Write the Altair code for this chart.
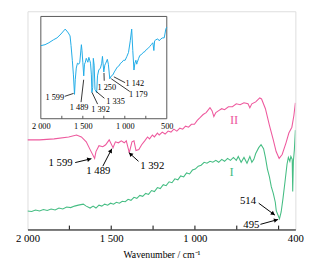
import math
import altair as alt
import pandas as pd

# ---------------- data (wavenumber / cm-1, transmittance a.u.) ----------------
wn_II = [2000, 1928, 1841, 1754, 1707, 1678, 1649, 1626, 1599, 1591, 1573, 1550, 1533, 1512,
         1489, 1475, 1457, 1440, 1422, 1410, 1392, 1376, 1364, 1352, 1335, 1318, 1300, 1283,
         1271, 1254, 1242, 1224, 1213, 1195, 1178, 1160, 1143, 1126, 1108, 1090, 1073, 1056,
         1038, 1021, 1003, 986, 968, 951, 933, 910, 898, 887, 875, 858, 840, 823, 800, 776,
         753, 730, 707, 683, 672, 660, 637, 613, 602, 579, 555, 532, 515, 497, 479, 456, 439,
         421, 409, 400]
t_II = [92, 92, 93, 95, 97, 95, 90, 82, 73, 80, 86, 85, 87, 92,
        84, 90, 89, 91, 89, 91, 79, 90, 91, 81, 82, 87, 91, 95,
        93, 97, 95, 99, 97, 100, 98, 101, 100, 103, 101, 104, 103, 106,
        105, 108, 108, 112, 115, 118, 120, 125, 122, 116, 120, 122, 124, 123, 126, 126,
        129, 128, 130, 129, 125, 129, 131, 135, 134, 124, 107, 92, 80, 73, 77, 89, 99,
        105, 117, 130]

wn_I = [2000, 1975, 1952, 1928, 1905, 1882, 1859, 1835, 1812, 1789, 1766, 1742, 1719, 1696,
        1667, 1649, 1626, 1608, 1591, 1573, 1556, 1539, 1521, 1504, 1486, 1469, 1451, 1434,
        1416, 1399, 1382, 1364, 1347, 1329, 1312, 1294, 1277, 1259, 1242, 1224, 1207, 1189,
        1172, 1154, 1137, 1120, 1102, 1085, 1067, 1050, 1032, 1015, 998, 980, 963, 945, 928,
        910, 893, 875, 858, 840, 823, 805, 788, 770, 753, 741, 724, 707, 689, 672, 660, 648,
        637, 619, 605, 590, 579, 567, 555, 544, 532, 520, 514, 495, 485, 474, 462, 450, 442,
        433, 427, 419, 416, 412, 406, 400]
t_I = [19, 18.5, 20, 19, 20.5, 19.5, 21, 20, 22, 21, 23, 22.5, 24, 25,
       26, 24, 22, 24, 22, 25, 24, 26, 25, 27, 26, 28, 27, 29,
       28.5, 31, 30, 33, 32, 35, 34, 37, 36, 40, 39, 43, 42, 46,
       45, 49, 48, 52, 51, 55, 54, 58, 57, 61, 62, 65, 66, 69, 68,
       70, 69, 71, 69, 72, 70, 73, 71, 74, 71, 75, 69, 74, 68, 75, 69, 72,
       78, 84, 87, 83, 74, 62, 54, 44, 37, 28, 19, 11, 18, 32, 49, 67, 74,
       70, 75, 72, 39, 70, 82, 102]

wn_inset = [2000, 1950, 1904, 1850, 1807, 1760, 1710, 1690, 1672, 1652, 1640, 1625, 1612, 1599,
            1590, 1578, 1564, 1548, 1536, 1517, 1510, 1500, 1489, 1480, 1470, 1459, 1449, 1440,
            1428, 1418, 1408, 1398, 1392, 1382, 1375, 1365, 1355, 1335, 1325, 1310, 1290, 1275,
            1266, 1250, 1238, 1227, 1208, 1196, 1179, 1160, 1142, 1125, 1111, 1090, 1072, 1050,
            1034, 1015, 996, 975, 956, 935, 918, 905, 891, 880, 868, 858, 851, 835, 821, 800,
            782, 760, 744, 725, 705, 685, 666, 654, 645, 630, 608, 590, 570, 550, 531, 520,
            512, 500]
t_inset = [75, 76, 78, 81, 83, 87, 92, 90, 88, 85, 75, 60, 45, 25,
           40, 52, 57, 56, 58, 76, 70, 58, 44, 56, 58, 62, 60, 58,
           63, 60, 57, 45, 27, 32, 62, 55, 30, 27, 44, 50, 52, 57,
           64, 48, 55, 57, 61, 56, 41, 44, 45, 48, 50, 53, 54, 57,
           58, 60, 60, 64, 68, 80, 92, 70, 50, 57, 60, 56, 58, 62, 65, 66,
           68, 69, 71, 72, 74, 76, 78, 70, 80, 81, 82, 80, 82, 83, 83, 88,
           92, 94]

main_labels = [2000, 1500, 1000, 400]
main_minor = [1750, 1500, 1250, 1000, 750, 500]
inset_labels = [2000, 1500, 1000, 500]
inset_minor = [1750, 1500, 1250, 1000, 750]

ann_text = ["1 599", "1 489", "1 392", "514", "495"]
ann_x = [1802, 1577, 1255, 683, 663]
ann_y = [68, 60, 65, 29, 5]
arr_x1 = [1715, 1550, 1337, 619, 609]
arr_y1 = [68.7, 65, 70, 27, 5.3]
arr_x2 = [1618, 1496, 1395, 522, 503]
arr_y2 = [72.7, 83, 79, 14.7, 10.3]

series_text = ["II", "I"]
series_x = [766, 781]
series_y = [112.7, 58.7]

ins_text = ["1 599", "1 489", "1 392", "1 335", "1 250", "1 179", "1 142"]
ins_x = [1834, 1544, 1289, 1111, 1215, 840, 881]
ins_y = [22, 12, 10, 18, 33, 25.6, 36.6]
lead_x1 = [1715, 1521, 1390, 1341, 1248, 1161, 1130]
lead_y1 = [23, 17, 27, 28, 47, 41, 43]
lead_x2 = [1610, 1490, 1324, 1243, 1245, 941, 996]
lead_y2 = [26, 40, 15, 21, 39, 28, 37]

PINK = "#EE5A9E"
GREEN = "#45BD83"
BLUE = "#1EABE6"
FONT = "Liberation Serif"

# ---------------- layout ----------------
W, H = 275, 224
X_DOM = [2000, 400]
Y_DOM = [0, 224]
px_per_wn = W / (X_DOM[0] - X_DOM[1])
px_per_t = H / (Y_DOM[1] - Y_DOM[0])

xs = alt.Scale(domain=X_DOM, nice=False, zero=False)
ys = alt.Scale(domain=Y_DOM, nice=False, zero=False)

curves = pd.concat([
    pd.DataFrame({"wn": wn_II, "t": t_II, "s": "II"}),
    pd.DataFrame({"wn": wn_I, "t": t_I, "s": "I"}),
])

lines = alt.Chart(curves).mark_line(strokeWidth=1.1, clip=True).encode(
    x=alt.X("wn:Q", scale=xs, axis=alt.Axis(
        values=main_labels, title="Wavenumber / cm⁻¹", ticks=False, grid=False,
        domainColor="black", labelExpr="replace(format(datum.value, ','), ',', ' ')",
        labelFontSize=11, labelColor="black", labelPadding=3, labelFlush=False,
        labelOverlap=False, labelBound=False, titleFontSize=10, titleFontWeight="normal",
        titleColor="black", titlePadding=7)),
    y=alt.Y("t:Q", scale=ys, axis=None),
    color=alt.Color("s:N", scale=alt.Scale(domain=["II", "I"], range=[PINK, GREEN]), legend=None),
    detail="s:N",
)

ticks_df = pd.DataFrame({"wn": main_minor})
main_ticks = alt.Chart(ticks_df).mark_rule(color="black", strokeWidth=1).encode(
    x=alt.X("wn:Q", scale=xs), y=alt.value(H), y2=alt.value(H - 4))

arr = pd.DataFrame({"x1": arr_x1, "y1": arr_y1, "x2": arr_x2, "y2": arr_y2})
dxp = -(arr["x2"] - arr["x1"]) * px_per_wn
dyp = -(arr["y2"] - arr["y1"]) * px_per_t
ln = (dxp ** 2 + dyp ** 2) ** 0.5
ux, uy = dxp / ln, dyp / ln
arr["ang"] = [(math.degrees(math.atan2(a, -b)) + 360) % 360 for a, b in zip(ux, uy)]
arr["hx"] = arr["x2"] + 3 * ux / px_per_wn
arr["hy"] = arr["y2"] + 3 * uy / px_per_t

shafts = alt.Chart(arr).mark_rule(color="black", strokeWidth=1).encode(
    x=alt.X("x1:Q", scale=xs), x2="x2:Q", y=alt.Y("y1:Q", scale=ys), y2="y2:Q")
heads = alt.Chart(arr).mark_point(shape="triangle", filled=True, color="black", size=22, opacity=1).encode(
    x=alt.X("hx:Q", scale=xs), y=alt.Y("hy:Q", scale=ys), angle=alt.Angle("ang:Q", scale=None))

ann = alt.Chart(pd.DataFrame({"x": ann_x, "y": ann_y, "txt": ann_text})).mark_text(
    font=FONT, fontSize=11, color="black", align="center", baseline="middle").encode(
    x=alt.X("x:Q", scale=xs), y=alt.Y("y:Q", scale=ys), text="txt:N")

ser = alt.Chart(pd.DataFrame({"x": series_x, "y": series_y, "txt": series_text, "s": ["II", "I"]})).mark_text(
    font=FONT, fontSize=13, align="center", baseline="middle").encode(
    x=alt.X("x:Q", scale=xs), y=alt.Y("y:Q", scale=ys), text="txt:N",
    color=alt.Color("s:N", scale=alt.Scale(domain=["II", "I"], range=[PINK, GREEN]), legend=None))

main = alt.layer(lines, main_ticks, shafts, heads, ann, ser)

# ---------------- inset ----------------
ixs = alt.Scale(domain=[2000, 500], range=[13.7, 143], nice=False, zero=False)
iys = alt.Scale(domain=[0, 105], range=[110.3, 5.3], nice=False, zero=False)

frame = alt.Chart(pd.DataFrame({"a": [2000], "b": [500], "c": [0], "d": [105]})).mark_rect(
    fill="white", stroke="#555555", strokeWidth=1).encode(
    x=alt.X("a:Q", scale=ixs, axis=alt.Axis(
        orient="bottom", offset=-(H - 110.3), values=inset_labels, ticks=False, domain=False,
        grid=False, title=None, labelFontSize=8.5, labelColor="black", labelPadding=3,
        labelFlush=False, labelOverlap=False, labelBound=False,
        labelExpr="replace(format(datum.value, ','), ',', ' ')")),
    x2="b:Q", y=alt.Y("c:Q", scale=iys, axis=None), y2="d:Q")

iline = alt.Chart(pd.DataFrame({"wn": wn_inset, "t": t_inset})).mark_line(
    color=BLUE, strokeWidth=1).encode(x=alt.X("wn:Q", scale=ixs), y=alt.Y("t:Q", scale=iys))

iticks = alt.Chart(pd.DataFrame({"wn": inset_minor})).mark_rule(color="#555555", strokeWidth=1).encode(
    x=alt.X("wn:Q", scale=ixs), y=alt.value(110.3), y2=alt.value(107.3))

leads = alt.Chart(pd.DataFrame({"x1": lead_x1, "y1": lead_y1, "x2": lead_x2, "y2": lead_y2})).mark_rule(
    color="black", strokeWidth=0.8).encode(
    x=alt.X("x1:Q", scale=ixs), x2="x2:Q", y=alt.Y("y1:Q", scale=iys), y2="y2:Q")

itext = alt.Chart(pd.DataFrame({"x": ins_x, "y": ins_y, "txt": ins_text})).mark_text(
    font=FONT, fontSize=8.5, color="black", align="center", baseline="middle").encode(
    x=alt.X("x:Q", scale=ixs), y=alt.Y("y:Q", scale=iys), text="txt:N")

inset = alt.layer(frame, iline, iticks, leads, itext)

chart = alt.layer(main, inset).resolve_scale(x="independent", y="independent").properties(
    width=W, height=H, padding={"left": 20, "top": 0, "right": 15, "bottom": 30}, autosize="none"
).configure_view(stroke="black", strokeWidth=1).configure(font=FONT)

chart.save("out.html", embed_options={"renderer": "svg", "actions": False})
